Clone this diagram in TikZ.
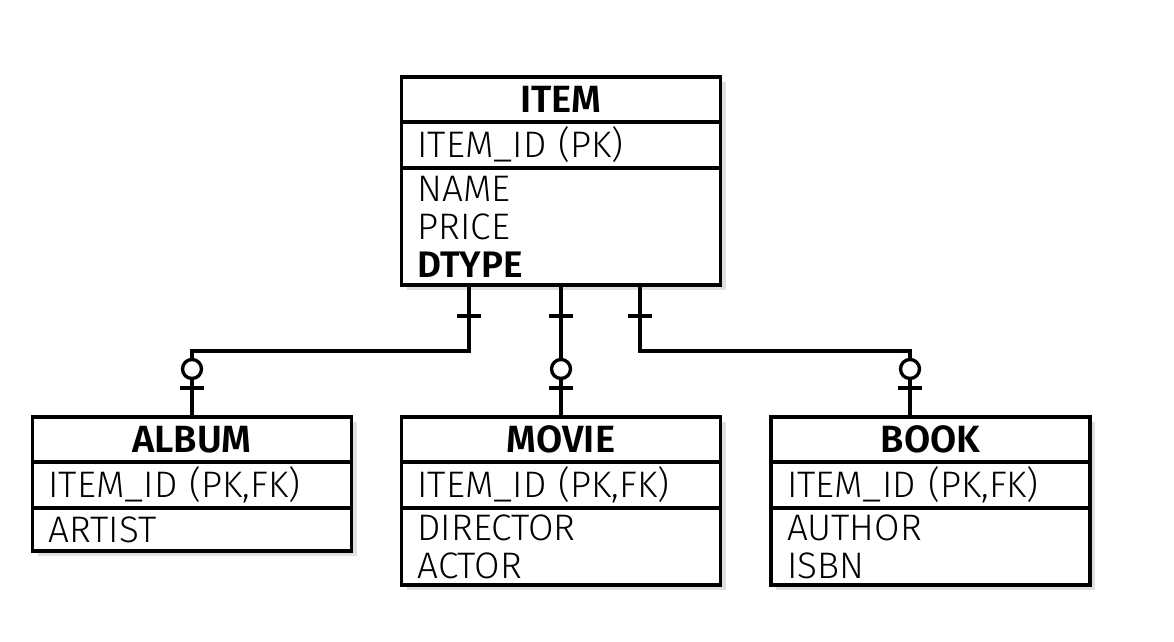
\documentclass[tikz,border=0pt]{standalone}
\usepackage{fontspec}
\setmainfont{Fira Sans Light}[BoldFont={Fira Sans SemiBold}]
\usetikzlibrary{positioning}
\usetikzlibrary{shadows}
\usetikzlibrary{calc}

\begin{document}
\begin{tikzpicture}
    \tikzset{ ttl/.style ={draw, line width=0.95pt, fill=white, outer sep=0pt, inner sep=0pt, minimum width=3.19cm, minimum height=0.45cm, font=\fontsize{10.8}{11}\selectfont\bfseries, drop shadow={opacity=0.25, shadow xshift=1.5pt, shadow yshift=-1.5pt}} }
    \tikzset{ fld/.style ={ttl, font=\fontsize{10.5}{10.8}\selectfont, text width=2.87cm, align=left, inner xsep=0.16cm} }
    \tikzset{ rel/.style ={draw, line width=0.95pt} }
    \tikzset{ opt/.style ={draw, line width=0.95pt, circle, fill=white, inner sep=0pt, minimum size=0.19cm} }

    \useasboundingbox (0,0) rectangle (11.74,6.42);

    % parent table
    \node[ttl                                     ] (item)      at (5.61,5.425) {ITEM};
    \node[fld, below=0pt of item,     minimum height=0.46cm] (item_id)  {ITEM\_ID (PK)};
    \node[fld, below=0pt of item_id,  minimum height=1.17cm] (item_at)  {NAME\\PRICE\\\textbf{DTYPE}};

    % child tables
    \node[ttl                                     ] (album)     at (1.92,2.025)  {ALBUM};
    \node[fld, below=0pt of album,    minimum height=0.46cm] (album_id) {ITEM\_ID (PK,FK)};
    \node[fld, below=0pt of album_id, minimum height=0.43cm] (album_at) {ARTIST};

    \node[ttl                                     ] (movie)     at (5.61,2.025)  {MOVIE};
    \node[fld, below=0pt of movie,    minimum height=0.46cm] (movie_id) {ITEM\_ID (PK,FK)};
    \node[fld, below=0pt of movie_id, minimum height=0.77cm] (movie_at) {DIRECTOR\\ACTOR};

    \node[ttl                                     ] (book)      at (9.305,2.025) {BOOK};
    \node[fld, below=0pt of book,     minimum height=0.46cm] (book_id)  {ITEM\_ID (PK,FK)};
    \node[fld, below=0pt of book_id,  minimum height=0.77cm] (book_at)  {AUTHOR\\ISBN};

    % relations
    \coordinate (j1) at (4.69,2.91);
    \coordinate (j3) at (6.40,2.91);
    \coordinate (k3) at (9.10,2.91);

    \draw[rel] (item_at.south -| j1) -- (j1) -- (j1 -| album) -- (album.north);
    \draw[rel] (item_at.south -| movie) -- (movie.north);
    \draw[rel] (item_at.south -| j3) -- (j3) -- (k3) -- (book.north -| k3);

    % cardinality marks
    \foreach \x in {4.69,5.61,6.40}
        \draw[rel] (\x-0.12,3.26) -- (\x+0.12,3.26);
    \foreach \x in {1.92,5.61,9.10} {
        \node[opt] at (\x,2.73) {};
        \draw[rel] (\x-0.12,2.54) -- (\x+0.12,2.54);
    }
\end{tikzpicture}
\end{document}
